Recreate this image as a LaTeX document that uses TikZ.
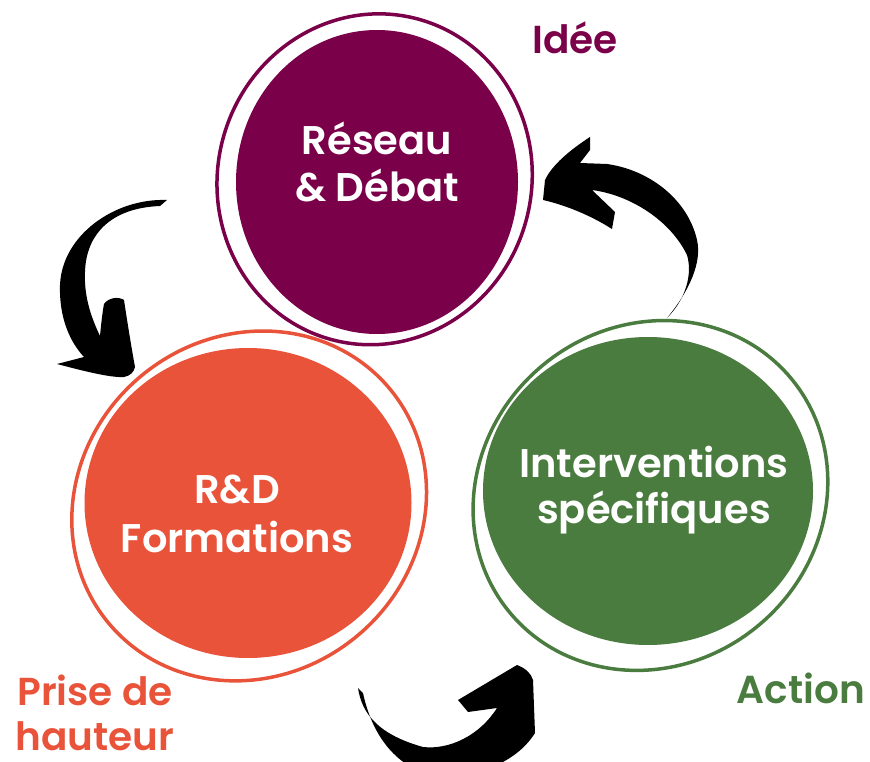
\documentclass[tikz,border=0pt]{standalone}
\usepackage{fontspec}
\setmainfont{Poppins}[BoldFont={Poppins SemiBold}]
\usetikzlibrary{shapes.geometric}
\definecolor{idee}{HTML}{7A0049}
\definecolor{hauteur}{HTML}{E8533A}
\definecolor{action}{HTML}{4A7C3F}

\begin{document}
\begin{tikzpicture}[x=1pt, y=-1pt]
	\tikzstyle{disc}  = [ellipse, inner sep=0pt, draw=none]
	\tikzstyle{ring}  = [line width=3.5pt]
	\tikzstyle{inner} = [text=white, font=\fontsize{40}{48}\selectfont\bfseries, inner sep=0pt, anchor=base]
	\tikzstyle{tag}   = [font=\fontsize{39}{47}\selectfont\bfseries, inner sep=0pt, anchor=base]
	\tikzstyle{brush} = [fill=black]

	\path[use as bounding box, clip] (0,0) rectangle (870,762);

	% the three circles
	\foreach \name/\col/\x/\y/\w/\h in {reseau/idee/377/182/282/304, rd/hauteur/248/503/327/310, interv/action/648/491/330/308}
		\node[disc, fill=\col, minimum width=\w pt, minimum height=\h pt] (\name) at (\x, \y) {};

	\foreach \name/\col/\dx/\dy/\rx/\ry/\rot in {reseau/idee/-3/-2/157/166/-15, rd/hauteur/-1/3/183/169/40, interv/action/-1/5/183/169/40}
		\draw[ring, \col, rotate around={\rot:([shift={(\dx,\dy)}]\name.center)}] ([shift={(\dx,\dy)}]\name.center) ellipse ({\rx} and {\ry});

	% texts in the circles
	\foreach \name/\txt/\x/\y in {reseau1/Réseau/377/155, reseau2/\& Débat/377/202, rd1/R\&D/237/503, rd2/Formations/237/552, interv1/Interventions/654/477, interv2/spécifiques/654/523}
		\node[inner] (\name) at (\x, \y) {\txt};

	% outer labels
	\foreach \name/\col/\txt/\x/\y in {idee/idee/Idée/575/54, action/action/Action/801/703, prise1/hauteur/Prise de/95/705, prise2/hauteur/hauteur/95/750}
		\node[tag, text=\col] (\name) at (\x, \y) {\txt};

	% arrows
	\fill[brush] (167,200) .. controls (115,198) and (62,235) .. (60,285)
		.. controls (59,318) and (70,342) .. (84,357) -- (57,364)
		.. controls (80,370) and (110,378) .. (124,377)
		.. controls (130,376) and (134,372) .. (135,367)
		.. controls (131,345) and (127,320) .. (124,300)
		.. controls (118,296) and (108,298) .. (104,304)
		.. controls (102,315) and (101,326) .. (100,336)
		.. controls (90,315) and (84,295) .. (85,272)
		.. controls (86,235) and (110,208) .. (160,206) -- cycle;

	\fill[brush] (667,318) .. controls (690,290) and (702,262) .. (697,240)
		.. controls (688,200) and (650,170) .. (607,164) -- (580,163) -- (590,150) -- (590,137)
		.. controls (570,150) and (552,165) .. (545,180) -- (543,200)
		.. controls (565,205) and (590,215) .. (612,229) -- (615,212) -- (592,190)
		.. controls (630,195) and (670,220) .. (687,255)
		.. controls (693,275) and (685,300) .. (667,318) -- cycle;

	\fill[brush] (358,688) .. controls (362,715) and (380,735) .. (423,747)
		.. controls (450,750) and (480,735) .. (497,708) -- (468,712) -- (458,700) -- (517,665)
		.. controls (525,668) and (531,673) .. (533,680) -- (535,733)
		.. controls (515,765) and (470,780) .. (430,775)
		.. controls (395,765) and (372,735) .. (363,693) -- cycle;
\end{tikzpicture}
\end{document}
